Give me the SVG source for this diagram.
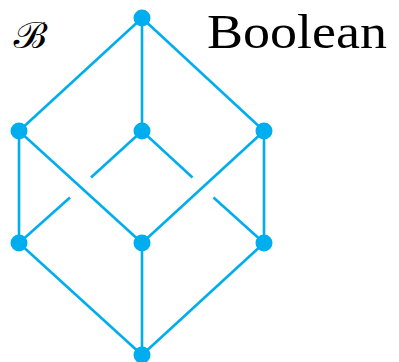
<svg xmlns="http://www.w3.org/2000/svg" width="399" height="362" viewBox="0 0 399 362">
<style>
.e{stroke:#00AEEF;stroke-width:2.6;fill:none;stroke-linecap:butt}
.n{fill:#00AEEF}
.t{font-family:"Liberation Serif","Times New Roman",serif;fill:#000}
</style>
<rect width="399" height="362" fill="#fff"/>
<text class="t" x="207" y="48.3" font-size="48" textLength="180" lengthAdjust="spacingAndGlyphs">Boolean</text>
<text x="13.5" y="48.3" font-size="36" font-family="'DejaVu Serif','Noto Sans',serif" textLength="34" lengthAdjust="spacingAndGlyphs">ℬ</text>
<g id="edges">
<line class="e" x1="142" y1="18" x2="19" y2="131"/>
<line class="e" x1="142" y1="18" x2="142" y2="131"/>
<line class="e" x1="142" y1="18" x2="264" y2="131"/>
<line class="e" x1="19" y1="131" x2="19" y2="243"/>
<line class="e" x1="19" y1="131" x2="142" y2="243"/>
<line class="e" x1="142" y1="131" x2="91" y2="177.5"/>
<line class="e" x1="70" y1="197.5" x2="19" y2="243"/>
<line class="e" x1="142" y1="131" x2="192.5" y2="177.5"/>
<line class="e" x1="213.5" y1="197.5" x2="264" y2="243"/>
<line class="e" x1="264" y1="131" x2="142" y2="243"/>
<line class="e" x1="264" y1="131" x2="264" y2="243"/>
<line class="e" x1="19" y1="243" x2="142" y2="355"/>
<line class="e" x1="142" y1="243" x2="142" y2="355"/>
<line class="e" x1="264" y1="243" x2="142" y2="355"/>
</g>
<g id="n-top"><circle class="n" cx="142" cy="18" r="8.5"/></g>
<g id="n-left"><circle class="n" cx="19" cy="131" r="8.5"/></g>
<g id="n-mid"><circle class="n" cx="142" cy="131" r="8.5"/></g>
<g id="n-right"><circle class="n" cx="264" cy="131" r="8.5"/></g>
<g id="n-lleft"><circle class="n" cx="19" cy="243" r="8.5"/></g>
<g id="n-center"><circle class="n" cx="142" cy="243" r="8.5"/></g>
<g id="n-lright"><circle class="n" cx="264" cy="243" r="8.5"/></g>
<g id="n-bottom"><circle class="n" cx="142" cy="355" r="8.5"/></g>
</svg>
